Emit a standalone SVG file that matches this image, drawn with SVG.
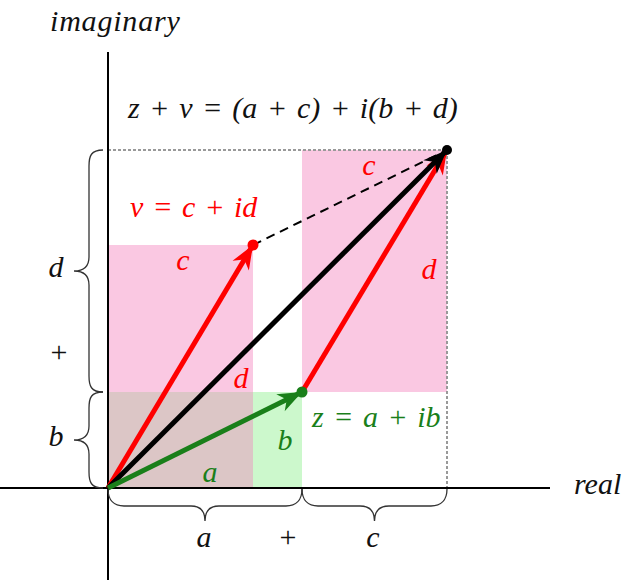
<svg xmlns="http://www.w3.org/2000/svg" width="634" height="580" viewBox="0 0 634 580">
<style>
text{font-family:"Liberation Serif","Times New Roman",serif;font-style:italic;font-size:30px}
.up{font-style:normal}
.red{fill:#ff0000}
.grn{fill:#1a7f1a}
.blk{fill:#111}
.mid{text-anchor:middle}
.brace{fill:none;stroke:#333;stroke-width:1.3}
.vec{fill:none;stroke-width:5}
</style>
<defs>
<marker id="ahR" markerUnits="userSpaceOnUse" viewBox="-26 -12 28 24" markerWidth="28" markerHeight="24" refX="0" refY="0" orient="auto"><path d="M0,0 L-24,-9.5 L-17,0 L-24,9.5 Z" fill="#ff0000"/></marker>
<marker id="ahK" markerUnits="userSpaceOnUse" viewBox="-26 -12 28 24" markerWidth="28" markerHeight="24" refX="0" refY="0" orient="auto"><path d="M0,0 L-24,-9.5 L-17,0 L-24,9.5 Z" fill="#000"/></marker>
<marker id="ahG" markerUnits="userSpaceOnUse" viewBox="-26 -12 28 24" markerWidth="28" markerHeight="24" refX="0" refY="0" orient="auto"><path d="M0,0 L-24,-9.5 L-17,0 L-24,9.5 Z" fill="#1a7f1a"/></marker>
</defs>
<rect width="634" height="580" fill="#fff"/>
<g id="regions">
<rect x="108" y="245" width="145" height="147" fill="#fac8e2"/>
<rect x="108" y="392" width="145" height="96" fill="#dcc6c6"/>
<rect x="253" y="392" width="49" height="96" fill="#ccf8cc"/>
<rect x="302" y="150" width="145" height="242" fill="#fac8e2"/>
<path d="M108,150 H447 V488" fill="none" stroke="#999" stroke-width="2" stroke-dasharray="3 2"/>
</g>
<g id="axes" stroke="#000" stroke-width="2">
<line x1="0" y1="488" x2="550" y2="488"/>
<line x1="108" y1="52" x2="108" y2="580"/>
</g>
<g id="braces">
<path class="brace" d="M103,150 C91,150 89,156 89,166 L89,257 C89,266 84,271 74,271 C84,271 89,276 89,285 L89,376 C89,386 91,392 103,392"/>
<path class="brace" d="M103,392 C91,392 89,398 89,408 L89,426 C89,435 84,440 74,440 C84,440 89,445 89,454 L89,472 C89,482 91,488 103,488"/>
<path class="brace" d="M108,489 C108,500 114,506 124,506 L191,506 C200,506 205,511 205,521 C205,511 210,506 219,506 L286,506 C296,506 302,500 302,489"/>
<path class="brace" d="M302,489 C302,500 308,506 318,506 L360,506 C369,506 374.5,511 374.5,521 C374.5,511 380,506 389,506 L431,506 C441,506 447,500 447,489"/>
</g>
<g id="connectors">
<line x1="253" y1="245" x2="447" y2="150" stroke="#000" stroke-width="2" stroke-dasharray="9 6"/>
<line class="vec" x1="108" y1="488" x2="253" y2="245" stroke="#ff0000" marker-end="url(#ahR)"/>
<line class="vec" x1="302" y1="392" x2="447" y2="150" stroke="#ff0000" marker-end="url(#ahR)"/>
<line class="vec" x1="108" y1="488" x2="447" y2="150" stroke="#000" marker-end="url(#ahK)"/>
<line class="vec" x1="108" y1="488" x2="302" y2="392" stroke="#1a7f1a" marker-end="url(#ahG)"/>
<circle cx="253" cy="245" r="5.5" fill="#ff0000"/>
<circle cx="302" cy="392" r="5.5" fill="#1a7f1a"/>
<circle cx="447" cy="150" r="5" fill="#000"/>
</g>
<g id="labels">
<text class="blk" x="50" y="31" letter-spacing="0.8">imaginary</text>
<text class="blk" x="574" y="494">real</text>
<text class="blk" x="128" y="118" word-spacing="2.2">z + v = (a + c) + i(b + d)</text>
<text class="red" x="130" y="217" word-spacing="1.7">v = c + id</text>
<text class="red mid" x="183" y="270">c</text>
<text class="red mid" x="369" y="175">c</text>
<text class="red mid" x="429" y="279">d</text>
<text class="red mid" x="241" y="388">d</text>
<text class="grn" x="312" y="427" word-spacing="2">z = a + ib</text>
<text class="grn mid" x="285" y="450">b</text>
<text class="grn mid" x="210" y="482">a</text>
<text class="blk mid" x="56" y="277">d</text>
<text class="blk mid up" x="59" y="362">+</text>
<text class="blk mid" x="56" y="446">b</text>
<text class="blk mid" x="204" y="547">a</text>
<text class="blk mid up" x="288" y="547">+</text>
<text class="blk mid" x="373" y="547">c</text>
</g>
</svg>
